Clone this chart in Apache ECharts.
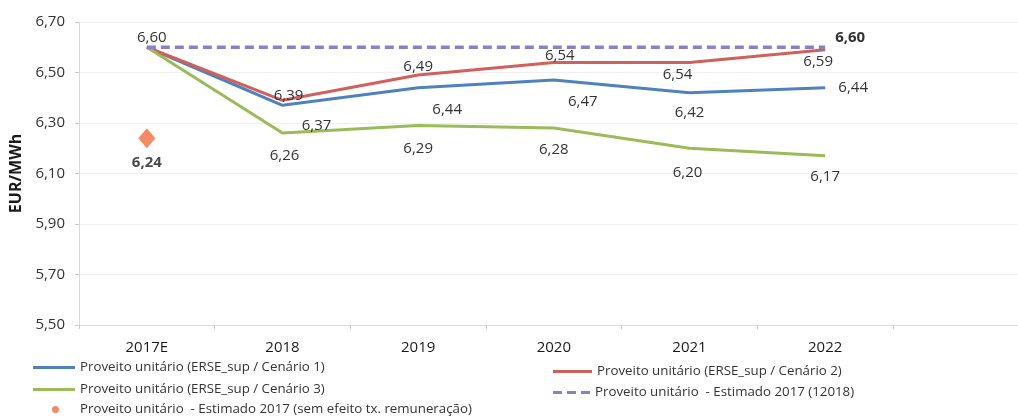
<!DOCTYPE html>
<html>
<head>
<meta charset="utf-8">
<script src="https://cdn.jsdelivr.net/npm/echarts@6/dist/echarts.min.js"></script>
<style>
  html, body { margin: 0; padding: 0; background: #ffffff; }
  #chart { width: 1018px; height: 419px; }
</style>
</head>
<body>
<div id="chart"></div>
<script>
// Years on the category axis
const categories = ['2017E', '2018', '2019', '2020', '2021', '2022'];

// Unit revenue (EUR/MWh) per scenario
const cenario1 = [6.60, 6.37, 6.44, 6.47, 6.42, 6.44];
const cenario2 = [6.60, 6.39, 6.49, 6.54, 6.54, 6.59];
const cenario3 = [6.60, 6.26, 6.29, 6.28, 6.20, 6.17];
const estimado2017 = [6.60, 6.60, 6.60, 6.60, 6.60, 6.60];
const estimado2017SemEfeito = [6.24];

// Y axis scale
const yMin = 5.50;
const yMax = 6.70;
const yStep = 0.20;

const names = {
  c1: 'Proveito unitário (ERSE_sup / Cenário 1)',
  c2: 'Proveito unitário (ERSE_sup / Cenário 2)',
  c3: 'Proveito unitário (ERSE_sup / Cenário 3)',
  est: 'Proveito unitário  - Estimado 2017 (12018)',
  sem: 'Proveito unitário  - Estimado 2017 (sem efeito tx. remuneração)'
};

const colors = {
  c1: '#4F81BD',
  c2: '#D0605C',
  c3: '#9BBB59',
  est: '#8B80C8',
  sem: '#F26D3D'
};

const fontFamily = '"Open Sans", "Liberation Sans", sans-serif';
const fmt = v => v.toFixed(2).replace('.', ',');

// Where each value label sits relative to its point (null = no label)
const labelOffsets = {
  c1: [null, [34, 20], [29, 22], [29, 22], [0, 20], [28, 0]],
  c2: [null, [6, -5], [0, -8], [6, -7], [-12, 12], [-7, 12]],
  c3: [null, [2, 23], [0, 23], [0, 22], [-2, 24], [0, 21]],
  est: [[5, -10], null, null, null, null, [25, -10]]
};
const boldLabels = { est: [false, false, false, false, false, true] };

function lineData(values, key) {
  return values.map((v, i) => {
    const off = labelOffsets[key][i];
    const item = { value: v };
    if (off) {
      item.label = {
        show: true,
        position: 'inside',
        offset: off,
        fontWeight: (boldLabels[key] && boldLabels[key][i]) ? 'bold' : 'normal'
      };
    } else {
      item.label = { show: false };
    }
    return item;
  });
}

function lineSeries(key, values, dashed) {
  return {
    name: names[key],
    type: 'line',
    xAxisIndex: 0,
    yAxisIndex: 0,
    data: lineData(values, key),
    symbol: 'circle',
    symbolSize: 0,
    showSymbol: true,
    itemStyle: { color: colors[key] },
    lineStyle: {
      color: colors[key],
      width: dashed ? 3.5 : 3,
      type: dashed ? [9, 5] : 'solid',
      cap: 'butt'
    },
    label: {
      show: false,
      formatter: p => fmt(p.value),
      color: '#333333',
      fontSize: 15,
      fontFamily: fontFamily
    },
    emphasis: { disabled: true },
    z: dashed ? 4 : 3
  };
}

const solidIcon = w => `path://M0,0h${w}v3h-${w}z`;
const dashIcon = 'path://M0,0h9v3h-9z M14,0h9v3h-9z M28,0h9v3h-9z';
const dotIcon = 'path://M0,0L0,0Z M42,7L42,7Z M19,3.5a3.5,3.5 0 1,0 7,0a3.5,3.5 0 1,0 -7,0Z';

function legendAt(name, left, top, icon, w, h) {
  return {
    data: [name],
    left: left,
    top: top,
    padding: 0,
    icon: icon,
    itemWidth: w,
    itemHeight: h,
    selectedMode: false,
    textStyle: { color: '#333333', fontSize: 13.3, fontFamily: fontFamily, lineHeight: 15 }
  };
}

const plotTop = 22;
const plotBottom = 94;
const plotLeft = 79;
const bandRight = 125;

const chart = echarts.init(document.getElementById('chart'), null, { renderer: 'canvas' });

chart.setOption({
  animation: false,
  backgroundColor: '#ffffff',
  grid: [
    // the categories
    { left: plotLeft, right: bandRight, top: plotTop, bottom: plotBottom, containLabel: false },
    // full-width plot area carrying the gridlines and base line
    { left: plotLeft, right: 0, top: plotTop, bottom: plotBottom, containLabel: false }
  ],
  xAxis: [
    {
      type: 'category',
      gridIndex: 0,
      data: categories,
      boundaryGap: true,
      axisLine: { show: false },
      axisTick: { show: true, alignWithLabel: false, length: 4, lineStyle: { color: '#c8c8c8' } },
      axisLabel: { color: '#1a1a1a', fontSize: 15, fontFamily: fontFamily, margin: 15 },
      splitLine: { show: false },
      z: 2
    },
    {
      type: 'value',
      gridIndex: 1,
      min: 0,
      max: 1,
      axisLine: { show: true, onZero: false, lineStyle: { color: '#d9d9d9', width: 1 } },
      axisTick: { show: false },
      axisLabel: { show: false },
      splitLine: { show: false }
    }
  ],
  yAxis: [
    {
      type: 'value',
      gridIndex: 0,
      min: yMin,
      max: yMax,
      interval: yStep,
      name: 'EUR/MWh',
      nameLocation: 'middle',
      nameGap: 55,
      nameTextStyle: { color: '#1a1a1a', fontSize: 16, fontWeight: 'bold', fontFamily: fontFamily },
      axisLine: { show: true, lineStyle: { color: '#d9d9d9', width: 1 } },
      axisTick: { show: true, length: 4, lineStyle: { color: '#c8c8c8' } },
      axisLabel: { color: '#333333', fontSize: 15, fontFamily: fontFamily, margin: 14, formatter: v => fmt(v) },
      splitLine: { show: false }
    },
    {
      type: 'value',
      gridIndex: 1,
      min: yMin,
      max: yMax,
      interval: yStep,
      axisLine: { show: false },
      axisTick: { show: false },
      axisLabel: { show: false },
      splitLine: { show: true, lineStyle: { color: '#f0f0f0', width: 1 } }
    }
  ],
  legend: [
    legendAt(names.c1, 33, 360, solidIcon(42), 42, 3),
    legendAt(names.c3, 33, 382, solidIcon(42), 42, 3),
    legendAt(names.sem, 33, 402, dotIcon, 42, 7),
    legendAt(names.c2, 553, 364, solidIcon(39), 39, 3),
    legendAt(names.est, 553, 385, dashIcon, 37, 3)
  ],
  series: [
    lineSeries('c1', cenario1, false),
    lineSeries('c2', cenario2, false),
    lineSeries('c3', cenario3, false),
    lineSeries('est', estimado2017, true),
    {
      name: names.sem,
      type: 'scatter',
      xAxisIndex: 0,
      yAxisIndex: 0,
      data: estimado2017SemEfeito,
      symbol: 'diamond',
      symbolSize: [17, 20],
      itemStyle: { color: colors.sem },
      label: {
        show: true,
        position: 'inside',
        offset: [0, 25],
        formatter: p => fmt(p.value),
        color: '#1a1a1a',
        fontSize: 15,
        fontWeight: 'bold',
        fontFamily: fontFamily
      },
      emphasis: { disabled: true },
      z: 5
    }
  ]
});
</script>
</body>
</html>
